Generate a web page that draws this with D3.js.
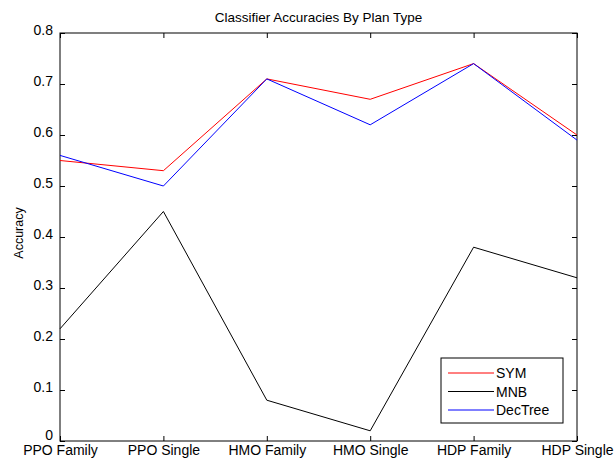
<!DOCTYPE html>
<html>
<head>
<meta charset="utf-8">
<script src="https://cdn.jsdelivr.net/npm/d3@7"></script>
<style>
  body { margin: 0; background: #fff; }
  text { font-family: "Liberation Sans", Arial, sans-serif; }
</style>
</head>
<body>
<div id="chart"></div>
<script>
// Data
var planTypes = ["PPO Family", "PPO Single", "HMO Family", "HMO Single", "HDP Family", "HDP Single"];
var svmAcc = [0.55, 0.53, 0.71, 0.67, 0.74, 0.60];
var mnbAcc = [0.22, 0.45, 0.08, 0.02, 0.38, 0.32];
var decTreeAcc = [0.56, 0.50, 0.71, 0.62, 0.74, 0.59];
var yTicks = [0, 0.1, 0.2, 0.3, 0.4, 0.5, 0.6, 0.7, 0.8];

var series = [
  { name: "SYM", values: svmAcc, color: "#ff0000" },
  { name: "MNB", values: mnbAcc, color: "#000000" },
  { name: "DecTree", values: decTreeAcc, color: "#0000ff" }
];

let width = 616;
let height = 459;

let paddingLeft = 60;
let paddingRight = 39;
let paddingTop = 33;
let paddingBottom = 18;

let plotWidth = width - paddingLeft - paddingRight;
let plotHeight = height - paddingTop - paddingBottom;

let svg = d3.select("#chart").append("svg")
  .attr("width", width)
  .attr("height", height);

let x = d3.scalePoint()
  .domain(planTypes)
  .range([0, plotWidth]);

let y = d3.scaleLinear()
  .domain([0, 0.8])
  .range([plotHeight, 0]);

let g = svg.append("g")
  .attr("transform", "translate(" + paddingLeft + "," + paddingTop + ")");

// Axes box
g.append("rect")
  .attr("width", plotWidth)
  .attr("height", plotHeight)
  .attr("fill", "none")
  .attr("stroke", "#000")
  .attr("stroke-width", 1);

// Bottom and left axes (ticks inward)
let bottomAxis = d3.axisBottom(x).tickSize(-5).tickPadding(4);
let leftAxis = d3.axisLeft(y).tickValues(yTicks).tickSize(-5).tickPadding(7)
  .tickFormat(d => d === 0 ? "0" : d3.format(".1f")(d));

let bx = g.append("g")
  .attr("transform", "translate(0," + plotHeight + ")")
  .call(bottomAxis);
let ly = g.append("g").call(leftAxis);

// Top and right axes, ticks only
let tx = g.append("g").call(d3.axisTop(x).tickSize(-5).tickFormat(""));
let ry = g.append("g")
  .attr("transform", "translate(" + plotWidth + ",0)")
  .call(d3.axisRight(y).tickValues(yTicks).tickSize(-5).tickFormat(""));

[bx, ly, tx, ry].forEach(function(a) {
  a.select(".domain").remove();
  a.selectAll("text")
    .style("font-size", "14px")
    .style("font-family", "Liberation Sans, Arial, sans-serif")
    .attr("fill", "#000");
});
bx.selectAll("text").attr("dy", "0.72em");
ly.selectAll("text").attr("dy", d => d === 0 ? "-0.12em" : "0.1em");

// Lines
let line = d3.line()
  .x((d, i) => x(planTypes[i]))
  .y(d => y(d));

series.forEach(function(s) {
  g.append("path")
    .datum(s.values)
    .attr("fill", "none")
    .attr("stroke", s.color)
    .attr("stroke-width", 1)
    .attr("d", line);
});

// Title
svg.append("text")
  .attr("x", paddingLeft + plotWidth / 2)
  .attr("y", 22)
  .attr("text-anchor", "middle")
  .style("font-size", "13.5px")
  .text("Classifier Accuracies By Plan Type");

// Y label
svg.append("text")
  .attr("transform", "translate(23," + (paddingTop + plotHeight / 2 - 4) + ") rotate(-90)")
  .attr("text-anchor", "middle")
  .style("font-size", "12.5px")
  .text("Accuracy");

// Legend
let legend = svg.append("g")
  .attr("transform", "translate(441,358)");

legend.append("rect")
  .attr("width", 122)
  .attr("height", 65)
  .attr("fill", "#fff")
  .attr("stroke", "#000");

series.forEach(function(s, i) {
  let row = legend.append("g").attr("transform", "translate(0," + (15 + i * 18.5) + ")");
  row.append("line")
    .attr("x1", 7).attr("x2", 53)
    .attr("stroke", s.color);
  row.append("text")
    .attr("x", 55)
    .attr("dy", "0.36em")
    .style("font-size", "14px")
    .text(s.name);
});
</script>
</body>
</html>
